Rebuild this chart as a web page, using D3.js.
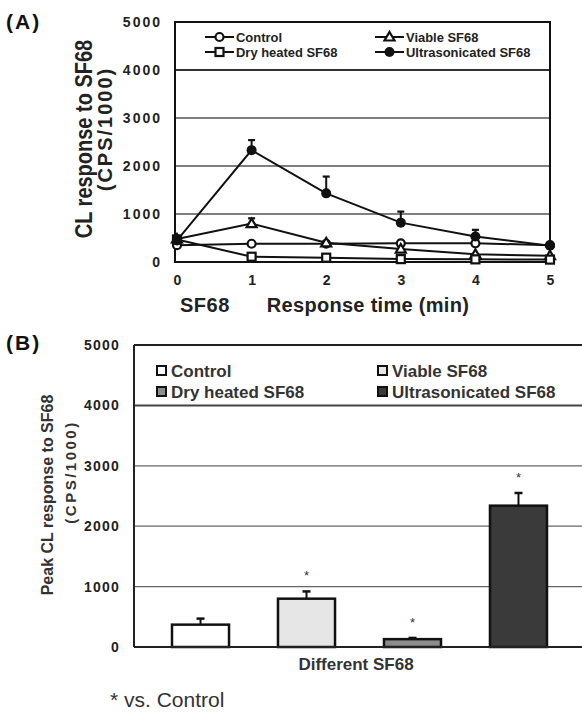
<!DOCTYPE html>
<html><head><meta charset="utf-8">
<script src="https://cdn.jsdelivr.net/npm/d3@7"></script>
<style>body{margin:0;background:#fff}svg{display:block;font-family:"Liberation Sans",Arial,sans-serif}</style>
</head><body><svg id="c" width="582" height="712"></svg>
<script>
// ---- Panel A data ----
const times = [0, 1, 2, 3, 4, 5];
const seriesNames = ["Control", "Viable SF68", "Dry heated SF68", "Ultrasonicated SF68"];
const controlVals = [350, 380, 380, 390, 390, 350];
const viableVals = [480, 800, 400, 270, 160, 130];
const dryVals = [470, 110, 90, 60, 55, 50];
const ultraVals = [450, 2330, 1430, 820, 530, 340];
const controlErr = [0, 0, 0, 0, 0, 0];
const viableErr = [0, 110, 0, 0, 0, 0];
const dryErr = [0, 0, 0, 0, 0, 0];
const ultraErr = [0, 210, 350, 230, 140, 0];
const yTicks = [0, 1000, 2000, 3000, 4000, 5000];
// ---- Panel B data ----
const barCats = ["Control", "Viable SF68", "Dry heated SF68", "Ultrasonicated SF68"];
const barVals = [370, 800, 130, 2340];
const barErr = [100, 120, 20, 210];
const barStar = [false, true, true, true];
const barColors = ["#ffffff", "#e6e6e6", "#8c8c8c", "#3a3a3a"];

const svg = d3.select("#c");
const ink = "#222";

// ================= Panel A =================
const A = {l: 175, r: 550, t: 22, b: 262};
const xA = d3.scaleLinear().domain([0, 5]).range([177, 550]);
const yA = d3.scaleLinear().domain([0, 5000]).range([A.b, A.t]);
const gA = svg.append("g");
gA.selectAll(".gA").data(yTicks.slice(1, -1)).join("line")
  .attr("x1", A.l).attr("x2", A.r).attr("y1", d => yA(d)).attr("y2", d => yA(d))
  .attr("stroke", d => d === 4000 ? "#333" : "#555").attr("stroke-width", d => d === 4000 ? 2 : 1.3);
gA.append("rect").attr("x", A.l).attr("y", A.t).attr("width", A.r - A.l).attr("height", A.b - A.t)
  .attr("fill", "none").attr("stroke", "#111").attr("stroke-width", 2);
const axA = gA.append("g").attr("transform", `translate(${A.l},0)`)
  .call(d3.axisLeft(yA).tickValues(yTicks).tickSize(0).tickPadding(13).tickFormat(d3.format("d")));
axA.select(".domain").remove();
axA.selectAll("text").attr("font-size", 14).attr("font-weight", "bold").attr("fill", ink).attr("letter-spacing", 2);
const axAx = gA.append("g").attr("transform", `translate(0,${A.b})`)
  .call(d3.axisBottom(xA).tickValues(times).tickSize(0).tickPadding(13).tickFormat(d3.format("d")));
axAx.select(".domain").remove();
axAx.selectAll("text").attr("font-size", 14).attr("font-weight", "bold").attr("fill", ink);
gA.append("text").attr("x", 180).attr("y", 312).attr("font-size", 20).attr("font-weight", "bold").attr("fill", ink).attr("letter-spacing", 0.5).text("SF68");
gA.append("text").attr("x", 368).attr("y", 312).attr("text-anchor", "middle").attr("font-size", 20).attr("font-weight", "bold").attr("fill", ink).attr("letter-spacing", 0.3).text("Response time (min)");
gA.append("text").attr("transform", "translate(92,139) scale(1.2,1) rotate(-90)").attr("text-anchor", "middle")
  .attr("font-size", 20).attr("font-weight", "bold").attr("fill", ink).text("CL response to SF68");
gA.append("text").attr("transform", "translate(112,129) rotate(-90)").attr("text-anchor", "middle")
  .attr("font-size", 20).attr("font-weight", "bold").attr("fill", ink).attr("letter-spacing", 2).text("(CPS/1000)");
svg.append("text").attr("x", 6).attr("y", 29).attr("font-size", 21).attr("font-weight", "bold").attr("fill", "#111").attr("letter-spacing", 2).text("(A)");

const seriesA = [
  {name: seriesNames[0], vals: controlVals, err: controlErr, marker: "circleOpen"},
  {name: seriesNames[1], vals: viableVals, err: viableErr, marker: "triangle"},
  {name: seriesNames[2], vals: dryVals, err: dryErr, marker: "square"},
  {name: seriesNames[3], vals: ultraVals, err: ultraErr, marker: "circleFill"}
];
const line = d3.line().x((d, i) => xA(times[i])).y(d => yA(d));
function drawMarker(g, type, x, y) {
  if (type === "circleOpen") g.append("circle").attr("cx", x).attr("cy", y).attr("r", 4).attr("fill", "#fff").attr("stroke", "#111").attr("stroke-width", 2.2);
  else if (type === "circleFill") g.append("circle").attr("cx", x).attr("cy", y).attr("r", 5).attr("fill", "#111");
  else if (type === "square") g.append("rect").attr("x", x - 4).attr("y", y - 4).attr("width", 8).attr("height", 8).attr("fill", "#fff").attr("stroke", "#111").attr("stroke-width", 2.2);
  else g.append("path").attr("d", `M${x},${y - 5}L${x + 5},${y + 3.5}L${x - 5},${y + 3.5}Z`).attr("fill", "#fff").attr("stroke", "#111").attr("stroke-width", 2.2);
}
seriesA.forEach(s => {
  const g = gA.append("g");
  g.append("path").attr("d", line(s.vals)).attr("fill", "none").attr("stroke", "#111").attr("stroke-width", 2);
  s.vals.forEach((v, i) => {
    if (s.err[i] > 0) {
      const x = xA(times[i]);
      g.append("line").attr("x1", x).attr("x2", x).attr("y1", yA(v)).attr("y2", yA(v + s.err[i])).attr("stroke", "#111").attr("stroke-width", 2);
      g.append("line").attr("x1", x - 3.5).attr("x2", x + 3.5).attr("y1", yA(v + s.err[i])).attr("y2", yA(v + s.err[i])).attr("stroke", "#111").attr("stroke-width", 2.2);
    }
  });
  s.vals.forEach((v, i) => drawMarker(g, s.marker, xA(times[i]), yA(v)));
});
const legA = [[205, 37], [375, 37], [205, 52], [375, 52]];
seriesA.forEach((s, i) => {
  const [x, y] = legA[i];
  gA.append("line").attr("x1", x).attr("x2", x + 29).attr("y1", y).attr("y2", y).attr("stroke", "#111").attr("stroke-width", 2);
  drawMarker(gA, s.marker, x + 14.5, y);
  gA.append("text").attr("transform", `translate(${x + 31},${y + 4.5}) scale(1.08,1)`).attr("font-size", 12).attr("font-weight", "bold").attr("fill", ink).text(s.name);
});

// ================= Panel B =================
const B = {l: 134, r: 582, t: 345, b: 647};
const yB = d3.scaleLinear().domain([0, 5000]).range([B.b, B.t]);
const xB = d3.scaleBand().domain(barCats).range([140.2, 578.8]).paddingInner(0.462).paddingOuter(0.3);
const gB = svg.append("g");
gB.selectAll(".gB").data(yTicks.slice(1, -1)).join("line")
  .attr("x1", B.l).attr("x2", B.r).attr("y1", d => yB(d)).attr("y2", d => yB(d))
  .attr("stroke", d => d === 4000 ? "#444" : "#666").attr("stroke-width", d => d === 4000 ? 2 : 1.3);
gB.append("line").attr("x1", B.l).attr("x2", B.r).attr("y1", B.t).attr("y2", B.t).attr("stroke", "#222").attr("stroke-width", 2);
gB.append("line").attr("x1", B.l).attr("x2", B.l).attr("y1", B.t).attr("y2", B.b).attr("stroke", "#222").attr("stroke-width", 2);
const axB = gB.append("g").attr("transform", `translate(${B.l},0)`)
  .call(d3.axisLeft(yB).tickValues(yTicks).tickSize(0).tickPadding(14).tickFormat(d3.format("d")));
axB.select(".domain").remove();
axB.selectAll("text").attr("font-size", 14).attr("font-weight", "bold").attr("fill", ink).attr("letter-spacing", 1.2);
gB.append("text").attr("transform", "translate(53,495) rotate(-90)").attr("text-anchor", "middle")
  .attr("font-size", 16).attr("font-weight", "bold").attr("fill", "#333").text("Peak CL response to SF68");
gB.append("text").attr("transform", "translate(76,472) rotate(-90)").attr("text-anchor", "middle")
  .attr("font-size", 15).attr("font-weight", "bold").attr("fill", "#333").attr("letter-spacing", 2.5).text("(CPS/1000)");
svg.append("text").attr("x", 6).attr("y", 350).attr("font-size", 21).attr("font-weight", "bold").attr("fill", "#111").attr("letter-spacing", 2).text("(B)");
barCats.forEach((c, i) => {
  const x = xB(c), w = xB.bandwidth(), cx = x + w / 2;
  const top = yB(barVals[i] + barErr[i]);
  gB.append("line").attr("x1", cx).attr("x2", cx).attr("y1", yB(barVals[i])).attr("y2", top).attr("stroke", "#111").attr("stroke-width", 2);
  gB.append("line").attr("x1", cx - 4).attr("x2", cx + 4).attr("y1", top).attr("y2", top).attr("stroke", "#111").attr("stroke-width", 2.5);
  gB.append("rect").attr("x", x).attr("y", yB(barVals[i])).attr("width", w).attr("height", yB(0) - yB(barVals[i]))
    .attr("fill", barColors[i]).attr("stroke", "#111").attr("stroke-width", 2.5);
  if (barStar[i]) gB.append("text").attr("x", cx).attr("y", top - 11).attr("text-anchor", "middle").attr("font-size", 13).attr("fill", "#333").text("*");
});
gB.append("line").attr("x1", B.l).attr("x2", B.r).attr("y1", B.b).attr("y2", B.b).attr("stroke", "#222").attr("stroke-width", 2);
gB.append("text").attr("x", 356).attr("y", 670).attr("text-anchor", "middle").attr("font-size", 17).attr("font-weight", "bold").attr("fill", "#333").text("Different SF68");
svg.append("text").attr("x", 110).attr("y", 707).attr("font-size", 21).attr("fill", "#333").text("* vs. Control");
const legB = [[157, 371], [378, 371], [157, 392], [378, 392]];
barCats.forEach((c, i) => {
  const [x, y] = legB[i];
  gB.append("rect").attr("x", x).attr("y", y - 5).attr("width", 9).attr("height", 9).attr("fill", barColors[i]).attr("stroke", "#111").attr("stroke-width", 2);
  gB.append("text").attr("x", x + 14).attr("y", y + 6).attr("font-size", 17).attr("font-weight", "bold").attr("fill", "#333").text(c);
});
</script></body></html>
